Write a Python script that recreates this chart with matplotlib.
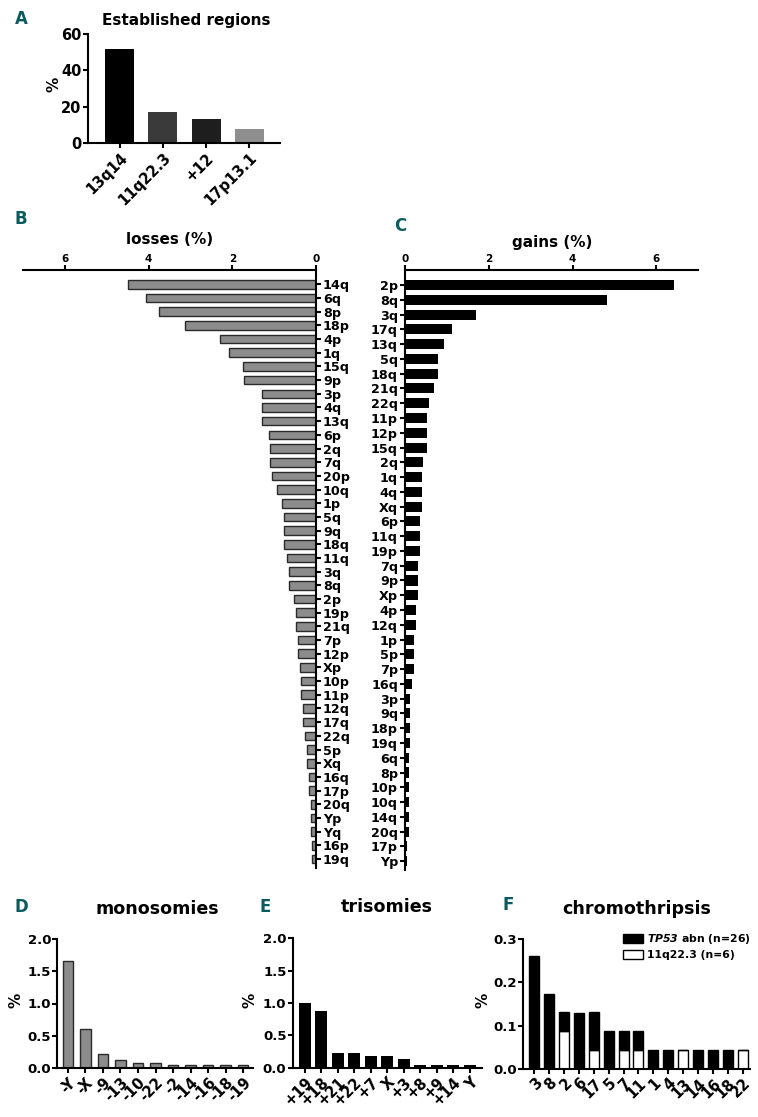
import matplotlib as mpl
mpl.use("Agg")
import matplotlib.pyplot as plt
from matplotlib.patches import Patch
import numpy as np

# ---- data -----------------------------------------------------------------
est_labels = ["13q14", "11q22.3", "+12", "17p13.1"]
est_values = [51.6, 17.2, 13.1, 7.6]
est_colors = ["#000000", "#3a3a3a", "#1e1e1e", "#8e8e8e"]

loss_labels = ["14q", "6q", "8p", "18p", "4p", "1q", "15q", "9p", "3p", "4q", "13q",
               "6p", "2q", "7q", "20p", "10q", "1p", "5q", "9q", "18q", "11q", "3q",
               "8q", "2p", "19p", "21q", "7p", "12p", "Xp", "10p", "11p", "12q", "17q",
               "22q", "5p", "Xq", "16q", "17p", "20q", "Yp", "Yq", "16p", "19q"]
loss_values = [4.48, 4.05, 3.74, 3.13, 2.30, 2.09, 1.74, 1.71, 1.30, 1.30, 1.30,
               1.13, 1.09, 1.09, 1.04, 0.92, 0.82, 0.77, 0.77, 0.77, 0.70, 0.65,
               0.65, 0.52, 0.48, 0.48, 0.43, 0.43, 0.39, 0.35, 0.35, 0.30, 0.30,
               0.26, 0.22, 0.22, 0.17, 0.17, 0.13, 0.13, 0.13, 0.09, 0.09]

gain_labels = ["2p", "8q", "3q", "17q", "13q", "5q", "18q", "21q", "22q", "11p", "12p",
               "15q", "2q", "1q", "4q", "Xq", "6p", "11q", "19p", "7q", "9p", "Xp",
               "4p", "12q", "1p", "5p", "7p", "16q", "3p", "9q", "18p", "19q", "6q",
               "8p", "10p", "10q", "14q", "20q", "17p", "Yp"]
gain_values = [6.42, 4.81, 1.70, 1.13, 0.92, 0.79, 0.79, 0.70, 0.57, 0.53, 0.53,
               0.53, 0.43, 0.40, 0.40, 0.40, 0.36, 0.36, 0.36, 0.30, 0.30, 0.30,
               0.26, 0.26, 0.21, 0.21, 0.21, 0.17, 0.13, 0.13, 0.13, 0.13, 0.09,
               0.09, 0.09, 0.09, 0.09, 0.09, 0.04, 0.04]

mono_labels = ["-Y", "-X", "-9", "-13", "-10", "-22", "-2", "-14", "-16", "-18", "-19"]
mono_values = [1.65, 0.61, 0.22, 0.13, 0.087, 0.087, 0.044, 0.044, 0.044, 0.044, 0.044]

tri_labels = ["+19", "+18", "+21", "+22", "+7", "X", "+3", "+8", "+9", "+14", "Y"]
tri_values = [1.00, 0.87, 0.22, 0.22, 0.18, 0.18, 0.13, 0.044, 0.044, 0.044, 0.044]

chromo_labels = ["3", "8", "2", "6", "17", "5", "7", "11", "1", "4", "13", "14", "16", "18", "22"]
chromo_tp53 = [0.261, 0.174, 0.044, 0.130, 0.087, 0.087, 0.044, 0.044, 0.044, 0.044,
               0.0, 0.044, 0.044, 0.044, 0.0]
chromo_11q = [0.0, 0.0, 0.087, 0.0, 0.044, 0.0, 0.044, 0.044, 0.0, 0.0,
              0.044, 0.0, 0.0, 0.0, 0.044]

# ---- style ----------------------------------------------------------------
W, H = 758, 1117
LETTER = "#0b5b5e"
GRAY = "#8c8c8c"
LW = 1.5

plt.rcParams.update({
    "font.family": "DejaVu Sans",
    "font.weight": "bold",
    "axes.labelweight": "bold",
    "axes.linewidth": LW,
    "xtick.major.width": LW,
    "ytick.major.width": LW,
    "xtick.major.size": 3.5,
    "ytick.major.size": 3.5,
    "xtick.major.pad": 1.5,
    "ytick.major.pad": 1.0,
    "xtick.direction": "out",
    "ytick.direction": "out",
    "mathtext.fontset": "dejavusans",
})

fig = plt.figure(figsize=(W / 100, H / 100), dpi=100)


def box(l, r, t, b):
    """pixel box -> figure fraction rect"""
    return [l / W, (H - b) / H, (r - l) / W, (b - t) / H]


def letter(x, y, s):
    fig.text(x / W, 1 - y / H, s, color=LETTER, fontsize=12, fontweight="bold",
             family=["Liberation Sans Narrow", "DejaVu Sans"], ha="center", va="center")


def title(x, y, s, size=12.6):
    fig.text(x / W, 1 - y / H, s, fontsize=size, fontweight="bold", ha="center", va="center")


def pct(x, y):
    fig.text(x / W, 1 - y / H, "%", fontsize=11, fontweight="bold", rotation=90,
             ha="center", va="center")


def column_axes(ax, xsize=10.5, ysize=9.5):
    ax.spines["top"].set_visible(False)
    ax.spines["right"].set_visible(False)
    ax.tick_params(axis="x", labelsize=xsize)
    ax.tick_params(axis="y", labelsize=ysize)
    for t in ax.get_xticklabels():
        t.set_rotation(45)
        t.set_ha("right")
        t.set_va("top")
        t.set_rotation_mode("anchor")


# ---- A: established regions ----------------------------------------------
axA = fig.add_axes(box(88, 280, 34, 143.3))
xa = np.arange(len(est_labels))
axA.bar(xa, est_values, width=0.67, color=est_colors)
axA.set_xlim(-0.73, 3.71)
axA.set_ylim(0, 60)
axA.set_yticks([0, 20, 40, 60])
axA.set_xticks(xa)
axA.set_xticklabels(est_labels)
column_axes(axA, xsize=10.5, ysize=10.5)
letter(21, 19, "A")
title(186, 20, "Established regions", size=11)
pct(54, 84)

# ---- B: losses -------------------------------------------------------------
axB = fig.add_axes(box(23, 316, 270, 868))
yb = np.arange(len(loss_labels))
axB.barh(yb, loss_values, height=0.63, color=GRAY, edgecolor="#2a2a2a", linewidth=1)
axB.set_xlim(7, 0)
axB.set_ylim(len(loss_labels) - 1 + 0.66, -1.05)
axB.set_yticks(yb)
axB.set_yticklabels(loss_labels)
axB.set_xticks([0, 2, 4, 6])
axB.spines["left"].set_visible(False)
axB.spines["bottom"].set_visible(False)
axB.xaxis.tick_top()
axB.yaxis.tick_right()
axB.tick_params(axis="y", labelsize=9.2, length=3.5, pad=1.5)
axB.tick_params(axis="x", labelsize=7.5, length=3.5, pad=1)
letter(21, 219, "B")
title(170, 240, "losses (%)", size=11)

# ---- C: gains --------------------------------------------------------------
axC = fig.add_axes(box(405, 698.3, 270.3, 870))
yc = np.arange(len(gain_labels))
axC.barh(yc, gain_values, height=0.68, color="black")
axC.set_xlim(0, 7)
axC.set_ylim(len(gain_labels) - 1 + 0.6, -1.0)
axC.set_yticks(yc)
axC.set_yticklabels(gain_labels)
axC.set_xticks([0, 2, 4, 6])
axC.spines["right"].set_visible(False)
axC.spines["bottom"].set_visible(False)
axC.xaxis.tick_top()
axC.tick_params(axis="y", labelsize=9.2, length=3.5, pad=1.5)
axC.tick_params(axis="x", labelsize=7.5, length=3.5, pad=1)
letter(400, 226, "C")
title(552, 242, "gains (%)", size=11)

# ---- D: monosomies ---------------------------------------------------------
axD = fig.add_axes(box(57.3, 253, 938.7, 1068.3))
xd = np.arange(len(mono_labels))
axD.bar(xd, mono_values, width=0.6, color=GRAY, edgecolor="#2a2a2a", linewidth=1)
axD.set_xlim(-0.61, 10.57)
axD.set_ylim(0, 2.0)
axD.set_yticks([0, 0.5, 1.0, 1.5, 2.0])
axD.yaxis.set_major_formatter(mpl.ticker.FormatStrFormatter("%.1f"))
axD.set_xticks(xd)
axD.set_xticklabels(mono_labels)
column_axes(axD)
letter(21, 907, "D")
title(157, 909, "monosomies")
pct(16, 1000)

# ---- E: trisomies ----------------------------------------------------------
axE = fig.add_axes(box(292.7, 482, 938.3, 1067.7))
xe = np.arange(len(tri_labels))
axE.bar(xe, tri_values, width=0.71, color="black")
axE.set_xlim(-0.73, 10.74)
axE.set_ylim(0, 2.0)
axE.set_yticks([0, 0.5, 1.0, 1.5, 2.0])
axE.yaxis.set_major_formatter(mpl.ticker.FormatStrFormatter("%.1f"))
axE.set_xticks(xe)
axE.set_xticklabels(tri_labels)
column_axes(axE)
letter(265, 907, "E")
title(387, 907, "trisomies")
pct(250, 1000)

# ---- F: chromothripsis -----------------------------------------------------
axF = fig.add_axes(box(523.3, 750, 939.3, 1068.7))
xf = np.arange(len(chromo_labels))
axF.bar(xf, chromo_11q, width=0.67, color="white", edgecolor="black", linewidth=1)
axF.bar(xf, chromo_tp53, bottom=chromo_11q, width=0.67, color="black",
        edgecolor="black", linewidth=1)
axF.set_xlim(-0.74, 14.5)
axF.set_ylim(0, 0.3)
axF.set_yticks([0, 0.1, 0.2, 0.3])
axF.yaxis.set_major_formatter(mpl.ticker.FormatStrFormatter("%.1f"))
axF.set_xticks(xf)
axF.set_xticklabels(chromo_labels)
column_axes(axF)
handles = [Patch(facecolor="black", edgecolor="black", linewidth=1),
           Patch(facecolor="white", edgecolor="black", linewidth=1)]
axF.legend(handles, [r"$\mathbfit{TP53}$ abn (n=26)", "11q22.3 (n=6)"],
           loc="upper left", bbox_to_anchor=(0.42, 1.09), borderaxespad=0,
           frameon=False, handlelength=1.9, handleheight=0.95,
           handletextpad=0.3, labelspacing=0.35, prop={"weight": "bold", "size": 7.8})
letter(508, 905, "F")
title(637, 909, "chromothripsis")
pct(483, 1000)

fig.savefig("out.png", dpi=100)
